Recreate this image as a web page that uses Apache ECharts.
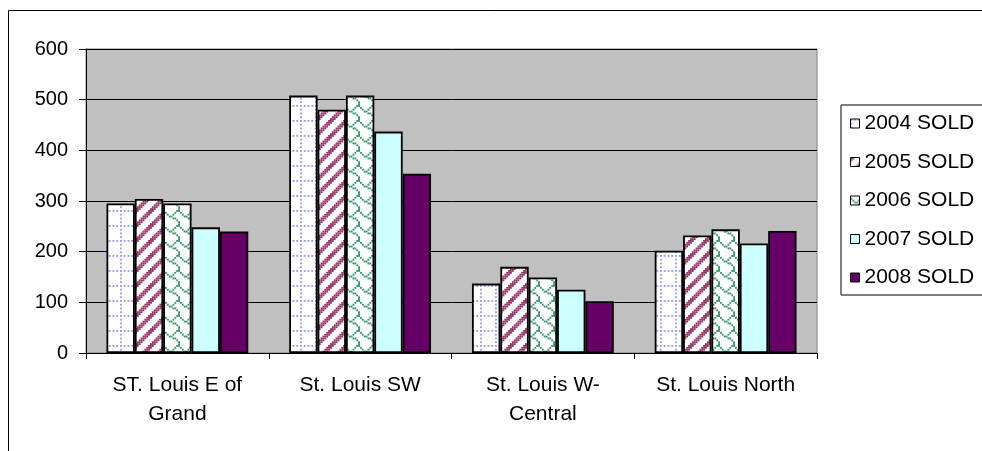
<!DOCTYPE html>
<html>
<head>
<meta charset="utf-8">
<script src="https://cdn.jsdelivr.net/npm/echarts@6/dist/echarts.min.js"></script>
<style>
html,body{margin:0;padding:0;background:#fff;}
#c{width:982px;height:451px;}
</style>
</head>
<body>
<div id="c"></div>
<script>
const categories = ['ST. Louis E of Grand', 'St. Louis SW', 'St. Louis W-Central', 'St. Louis North'];
const xTickLabels = ['ST. Louis E of\nGrand', 'St. Louis SW', 'St. Louis W-\nCentral', 'St. Louis North'];
const seriesNames = ['2004 SOLD', '2005 SOLD', '2006 SOLD', '2007 SOLD', '2008 SOLD'];
const sold2004 = [295, 508, 137, 202];
const sold2005 = [304, 480, 170, 232];
const sold2006 = [295, 508, 149, 244];
const sold2007 = [248, 437, 125, 216];
const sold2008 = [240, 354, 102, 241];
const yTicks = [0, 100, 200, 300, 400, 500, 600];

function bitsPattern(rows, fg, bg) {
  const size = 15, b = size / 8;
  const cv = document.createElement('canvas');
  cv.width = size; cv.height = size;
  const ctx = cv.getContext('2d');
  ctx.fillStyle = bg; ctx.fillRect(0, 0, size, size);
  ctx.fillStyle = fg;
  for (let r = 0; r < 8; r++) {
    for (let c = 0; c < 8; c++) {
      if (rows[r] & (0x80 >> c)) ctx.fillRect(c * b, r * b, b, b);
    }
  }
  return { image: cv, repeat: 'repeat' };
}
const dottedGrid = [0xAA, 0x00, 0x80, 0x00, 0x80, 0x00, 0x80, 0x00];
const wideUp = [];
for (let r = 0; r < 8; r++) {
  let v = 0;
  for (let k = 0; k < 3; k++) v |= (0x80 >> ((7 - r + k + 8) % 8));
  wideUp.push(v);
}
const shingle = [0x03, 0x84, 0x48, 0x30, 0x0c, 0x02, 0x01, 0x01];

const fills = [
  bitsPattern(dottedGrid, '#9999FF', '#FFFFFF'),
  bitsPattern(wideUp, '#993366', '#FFFFFF'),
  bitsPattern(shingle, '#339966', '#FFFFFF'),
  '#CCFFFF',
  '#660066'
];
const allData = [sold2004, sold2005, sold2006, sold2007, sold2008];
const FONT = 'Liberation Sans, Arial, sans-serif';

const chart = echarts.init(document.getElementById('c'), null, { renderer: 'canvas' });
chart.setOption({
  animation: false,
  backgroundColor: '#FFFFFF',
  graphic: [
    { type: 'rect', shape: { x: 8.5, y: 10.5, width: 1100, height: 600 }, style: { fill: 'none', stroke: '#000', lineWidth: 1 }, z: -10, silent: true },
    { type: 'rect', shape: { x: 86, y: 49, width: 731, height: 304 }, style: { fill: '#C0C0C0', stroke: '#808080', lineWidth: 1 }, z: -5, silent: true }
  ],
  grid: { left: 86, top: 49, width: 731, height: 304, containLabel: false },
  legend: {
    orient: 'vertical',
    left: 841, top: 105,
    padding: [8, 80, 7, 9],
    borderColor: '#000', borderWidth: 1,
    backgroundColor: '#FFFFFF',
    itemWidth: 9, itemHeight: 9, itemGap: 17.5, itemTextGap: 13,
    icon: 'rect',
    itemStyle: { borderWidth: 1, borderColor: '#000' },
    textStyle: { fontFamily: FONT, fontSize: 21, color: '#000', lineHeight: 20 },
    data: seriesNames
  },
  xAxis: {
    type: 'category',
    data: categories,
    axisLine: { lineStyle: { color: '#000', width: 1 } },
    axisTick: { show: true, length: 6, lineStyle: { color: '#000' } },
    axisLabel: {
      interval: 0, margin: 18,
      fontFamily: FONT, fontSize: 21, color: '#000', lineHeight: 29,
      formatter: (v, i) => xTickLabels[i]
    },
    splitLine: { show: false }
  },
  yAxis: {
    type: 'value',
    min: yTicks[0], max: yTicks[yTicks.length - 1], interval: 100,
    axisLine: { show: true, lineStyle: { color: '#000', width: 1 } },
    axisTick: { show: true, length: 7, lineStyle: { color: '#000' } },
    axisLabel: { margin: 18, fontFamily: FONT, fontSize: 20, color: '#000' },
    splitLine: { show: true, lineStyle: { color: '#000', width: 1 } }
  },
  series: seriesNames.map((name, i) => ({
    name: name,
    type: 'bar',
    data: allData[i],
    barGap: '0%',
    barCategoryGap: '22.4%',
    itemStyle: { color: fills[i], borderColor: '#000', borderWidth: 1.8 }
  }))
});
</script>
</body>
</html>
